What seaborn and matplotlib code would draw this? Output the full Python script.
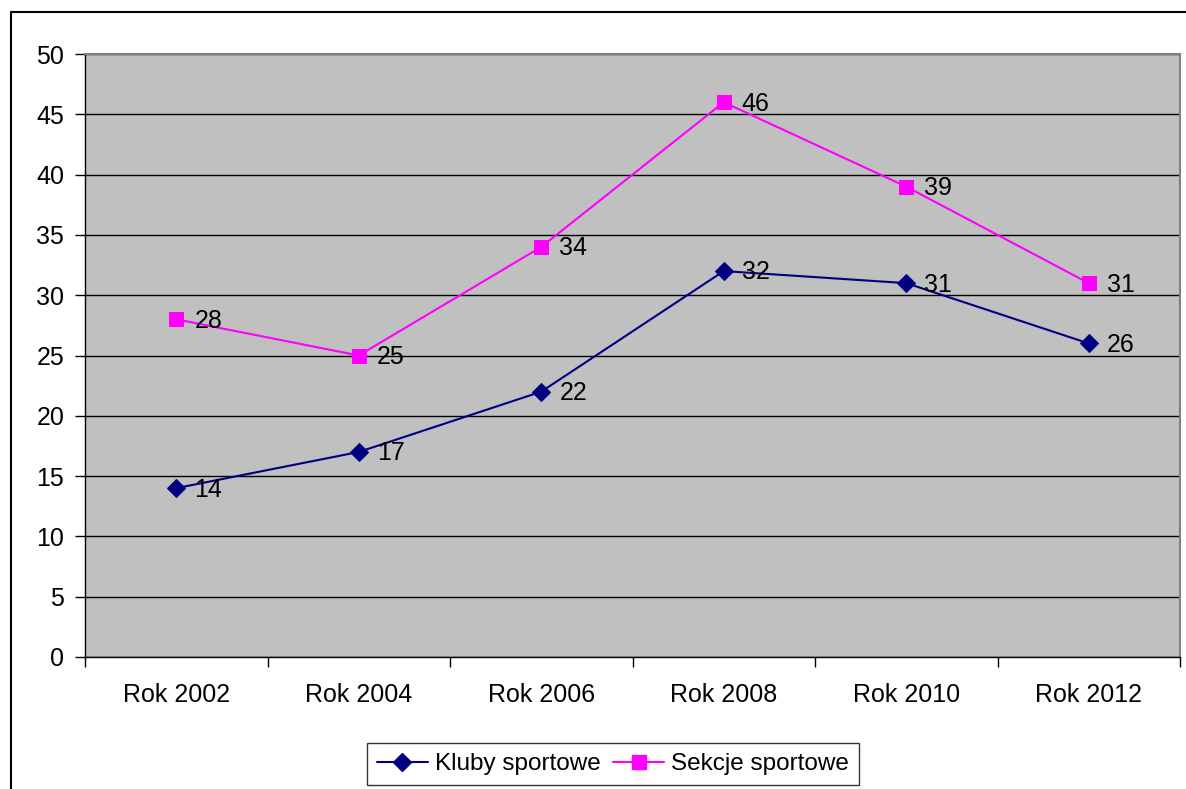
import matplotlib.pyplot as plt
import seaborn as sns
import pandas as pd
from matplotlib.lines import Line2D

years = ["Rok 2002", "Rok 2004", "Rok 2006", "Rok 2008", "Rok 2010", "Rok 2012"]
kluby = [14, 17, 22, 32, 31, 26]
sekcje = [28, 25, 34, 46, 39, 31]

sns.set_style("white")
plt.rcParams['font.family'] = ['Liberation Sans', 'DejaVu Sans']
plt.rcParams['text.color'] = 'black'
plt.rcParams['xtick.color'] = 'black'
plt.rcParams['ytick.color'] = 'black'

fig = plt.figure(figsize=(11.86, 7.89), dpi=100)
ax = fig.add_axes([85 / 1186, 132 / 789, 1095 / 1186, 603 / 789])
ax.set_facecolor("#c0c0c0")

df = pd.DataFrame({"rok": years, "kluby": kluby, "sekcje": sekcje})
sns.lineplot(data=df, x="rok", y="kluby", color="#000080", marker="D", markersize=9,
             markeredgecolor="#000080", linewidth=1.5, ax=ax, sort=False)
sns.lineplot(data=df, x="rok", y="sekcje", color="#ff00ff", marker="s", markersize=10.5,
             markeredgecolor="#ff00ff", linewidth=1.5, ax=ax, sort=False)

# etykiety danych
for i, v in enumerate(kluby):
    ax.annotate(str(v), (i, v), xytext=(13, -1), textcoords="offset points",
                ha="left", va="center", fontsize=18, color="black")
for i, v in enumerate(sekcje):
    ax.annotate(str(v), (i, v), xytext=(13, -1), textcoords="offset points",
                ha="left", va="center", fontsize=18, color="black")

ax.set_xlim(-0.5, 5.5)
ax.set_ylim(0, 50)
ax.set_yticks(range(0, 51, 5))
ax.yaxis.grid(True, color="black", linewidth=1)
ax.set_axisbelow(True)
ax.set_xticks(range(6))
ax.set_xticklabels(years, fontsize=18)
ax.set_xticks([x - 0.5 for x in range(7)], minor=True)
ax.tick_params(axis="x", which="major", length=0, pad=19, bottom=True)
ax.tick_params(axis="x", which="minor", length=7, width=1, color="black", direction="out", bottom=True)
ax.tick_params(axis="y", length=7, width=1, color="black", direction="out", labelsize=18, pad=8, left=True)
ax.set_xlabel("")
ax.set_ylabel("")
for s in ["left", "bottom"]:
    ax.spines[s].set_color("black")
    ax.spines[s].set_linewidth(1)
for s in ["top", "right"]:
    ax.spines[s].set_color("#808080")
    ax.spines[s].set_linewidth(1.5)

handles = [
    Line2D([], [], color="#000080", marker="D", markersize=9, linewidth=1.5),
    Line2D([], [], color="#ff00ff", marker="s", markersize=10.5, linewidth=1.5),
]
leg = fig.legend(handles, ["Kluby sportowe", "Sekcje sportowe"], loc="center",
                 bbox_to_anchor=(613 / 1186, 1 - 764 / 789), ncol=2, fontsize=17.5,
                 frameon=True, fancybox=False, edgecolor="black", handlelength=2.1,
                 handletextpad=0.3, columnspacing=0.5, borderpad=0.4, borderaxespad=0)
leg.get_frame().set_linewidth(1)
for t in leg.get_texts():
    t.set_color("black")

# ramka wykresu
fig.add_artist(Line2D([11 / 1186, 1.0], [1 - 12 / 789, 1 - 12 / 789], color="black", linewidth=1.5))
fig.add_artist(Line2D([11 / 1186, 11 / 1186], [0, 1 - 12 / 789], color="black", linewidth=1.5))

fig.savefig("out.png", dpi=100)
